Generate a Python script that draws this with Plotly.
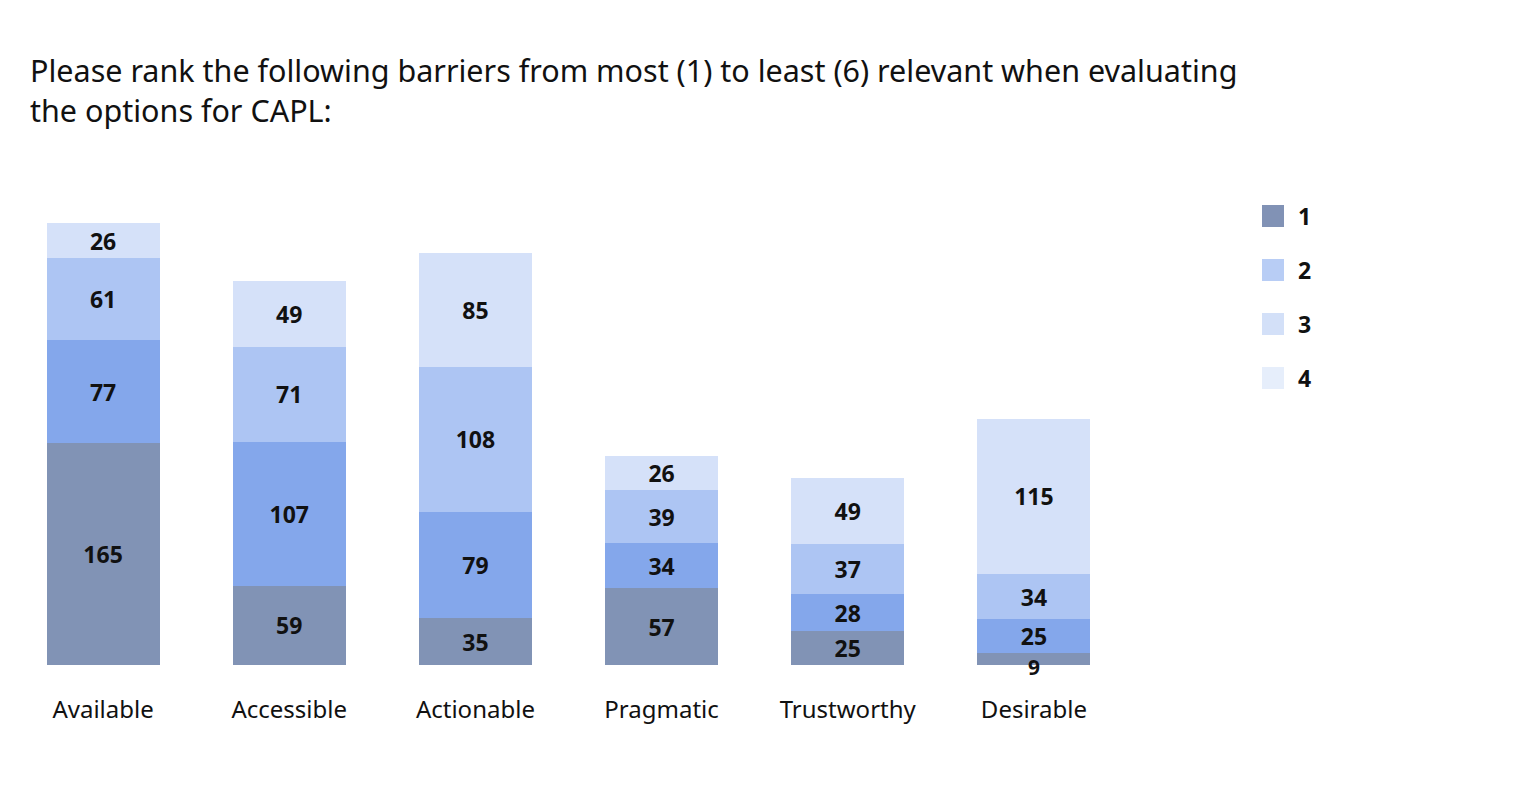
import plotly.graph_objects as go

categories = ["Available", "Accessible", "Actionable", "Pragmatic", "Trustworthy", "Desirable"]
series_names = ["1", "2", "3", "4"]
rank1 = [165, 59, 35, 57, 25, 9]
rank2 = [77, 107, 79, 34, 28, 25]
rank3 = [61, 71, 108, 39, 37, 34]
rank4 = [26, 49, 85, 26, 49, 115]
series_values = [rank1, rank2, rank3, rank4]
bar_colors = ["#8193b5", "#84a7eb", "#adc5f3", "#d5e1f9"]
legend_colors = ["#8192b5", "#b8cdf5", "#d3e0f8", "#e6eefb"]
title_text = ("Please rank the following barriers from most (1) to least (6) relevant when evaluating"
              "<br>the options for CAPL:")

# page has an 8px body margin; figure coordinates below are relative to the figure
OFF = 8
W, H = 1509, 778
ML, MT, MB = 10 - OFF, 195 - OFF, 121
PW = 1117
MR = W - ML - PW
PH = H - MT - MB
YMAX = 350
LABEL_FONT = dict(family="Noto Sans", size=23, color="#111111", weight="bold")
SMALL_FONT = dict(family="Noto Sans", size=21, color="#111111", weight="bold")
SMALL_SEGMENT = 15  # segments thinner than this get their label placed just below centre

fig = go.Figure()
annotations = []
base = [0] * len(categories)
for name, vals, col in zip(series_names, series_values, bar_colors):
    positions = ["none" if v < SMALL_SEGMENT else "inside" for v in vals]
    fig.add_trace(go.Bar(
        x=categories, y=vals, name=name,
        marker=dict(color=col, line=dict(width=0)),
        text=vals, textposition=positions, insidetextanchor="middle", textangle=0,
        textfont=LABEL_FONT, constraintext="none", showlegend=False,
        hovertemplate="%{x}<br>" + name + ": %{y}<extra></extra>",
    ))
    for c, v, b in zip(categories, vals, base):
        if v < SMALL_SEGMENT:
            annotations.append(dict(text=str(v), x=c, y=b + v / 2, xref="x", yref="y",
                                    yshift=-8, showarrow=False, font=SMALL_FONT))
    base = [b + v for b, v in zip(base, vals)]

def px_to_paper_x(px):
    return (px - OFF - ML) / PW

def py_to_paper_y(py):
    return (H - MB - (py - OFF)) / PH

legend_y = [216, 270, 324, 378]
shapes = []
for name, col, cy in zip(series_names, legend_colors, legend_y):
    shapes.append(dict(type="rect", xref="paper", yref="paper",
                       x0=px_to_paper_x(1262), x1=px_to_paper_x(1284),
                       y0=py_to_paper_y(cy + 11), y1=py_to_paper_y(cy - 11),
                       fillcolor=col, line=dict(width=0)))
    annotations.append(dict(text=name, xref="paper", yref="paper",
                            x=px_to_paper_x(1296), y=py_to_paper_y(cy),
                            xanchor="left", yanchor="middle", showarrow=False,
                            font=LABEL_FONT))

fig.update_layout(
    width=W, height=H,
    margin=dict(l=ML, r=MR, t=MT, b=MB, pad=0),
    barmode="stack", bargap=0.393,
    plot_bgcolor="white", paper_bgcolor="white",
    font=dict(family="Noto Sans", color="#111111"),
    title=dict(text=title_text, x=(30 - OFF) / W, xref="container", xanchor="left",
               y=1 - (82 - OFF) / H, yref="container", yanchor="top",
               font=dict(family="Noto Sans", size=30.5, color="#111111")),
    xaxis=dict(showgrid=False, zeroline=False, showline=False, ticks="",
               tickfont=dict(family="Noto Sans", size=24, color="#111111"),
               ticklabelstandoff=28),
    yaxis=dict(range=[0, YMAX], visible=False, showgrid=False, zeroline=False),
    uniformtext=dict(minsize=23, mode="show"),
    shapes=shapes, annotations=annotations,
    showlegend=False,
)

fig.write_html("out.html")
